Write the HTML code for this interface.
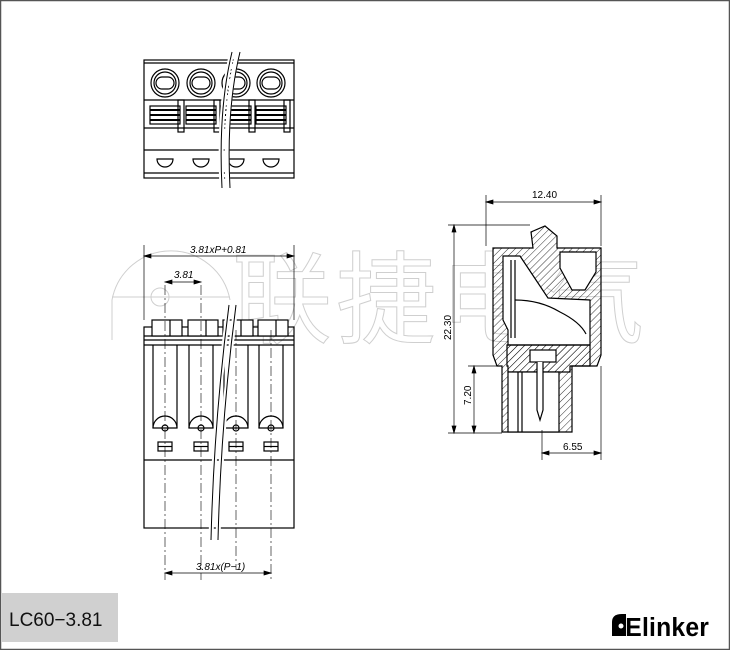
<!DOCTYPE html>
<html><head><style>
html,body{margin:0;padding:0;background:#fff}
svg{display:block}
</style></head><body>
<svg width="730" height="650" viewBox="0 0 730 650" xmlns="http://www.w3.org/2000/svg" font-family="Liberation Sans, sans-serif">
<defs>
<pattern id="h" width="5" height="5" patternUnits="userSpaceOnUse" patternTransform="rotate(45)"><line x1="0" y1="0" x2="0" y2="5" stroke="#000" stroke-width="0.8"/></pattern>
</defs>
<rect x="0.5" y="0.5" width="729" height="649" fill="#fff" stroke="#555" stroke-width="1.5"/>
<!-- watermark -->
<g fill="none" stroke="#cfcfcf" stroke-width="1">
<path d="M112 340 V300 A60 60 0 0 1 230 300"/>
<circle cx="160" cy="297" r="9"/>
<line x1="112" y1="297" x2="230" y2="297"/>
<text x="232" y="335" font-size="100" font-family="Noto Sans CJK SC, sans-serif" letter-spacing="4">联捷电气</text>
</g>
<g fill="none" stroke="#000" stroke-width="1.2">
<!-- TOP VIEW -->
<rect x="144" y="60" width="150" height="118"/>
<line x1="144" y1="63" x2="294" y2="63"/>
<line x1="144" y1="100" x2="294" y2="100"/>
<line x1="144" y1="128" x2="294" y2="128"/>
<line x1="144" y1="150" x2="294" y2="150"/>
<line x1="144" y1="173" x2="294" y2="173"/>
<g id="tc">
<circle cx="165" cy="83" r="14"/><circle cx="165" cy="83" r="11"/>
<rect x="156" y="77" width="18" height="12" rx="6"/>
<rect x="150" y="106" width="30" height="18" fill="#fff"/>
<line x1="150" y1="110" x2="180" y2="110" stroke-width="2"/><line x1="150" y1="115" x2="180" y2="115" stroke-width="2"/><line x1="150" y1="120" x2="180" y2="120" stroke-width="2"/>
<rect x="178" y="100" width="6" height="32"/>
<path d="M157 159 H173 A8 8 0 0 1 157 159 Z"/>
</g>
<use href="#tc" x="36"/><use href="#tc" x="71"/><use href="#tc" x="106"/>
<path d="M232 52 Q218 110 222 188 M238 52 Q224 110 228 188" stroke="#fff" stroke-width="5"/>
<path d="M232 52 Q218 110 222 188 M240 52 Q226 110 230 188" stroke-width="1"/>
<!-- FRONT VIEW -->
<rect x="144" y="327" width="150" height="201"/>
<line x1="144" y1="336" x2="294" y2="336"/><line x1="144" y1="340" x2="294" y2="340"/><line x1="144" y1="345" x2="294" y2="345"/>
<line x1="144" y1="460" x2="294" y2="460"/>
<g id="fc">
<rect x="152" y="320" width="30" height="16" fill="#fff"/><line x1="170" y1="320" x2="170" y2="336"/>
<path d="M153 345 V428 H177 V345"/>
<path d="M153 428 A12 12 0 0 1 177 428"/>
<circle cx="165" cy="428" r="3"/>
<rect x="158" y="442" width="14" height="9"/><line x1="158" y1="446.5" x2="172" y2="446.5"/>
</g>
<use href="#fc" x="36"/><use href="#fc" x="71"/><use href="#fc" x="106"/>
<path d="M229 305 Q214 420 211 540 M236 305 Q221 420 218 540" stroke="#fff" stroke-width="5"/>
<path d="M229 305 Q214 420 211 540 M236 305 Q221 420 218 540" stroke-width="1"/>
</g>
<g stroke="#000" stroke-width="0.6" stroke-dasharray="10 3 2 3" fill="none">
<line x1="165" y1="285" x2="165" y2="580"/><line x1="201" y1="285" x2="201" y2="580"/><line x1="236" y1="330" x2="236" y2="570"/><line x1="271" y1="330" x2="271" y2="580"/>
</g>
<g stroke="#000" stroke-width="0.7" fill="#000">
<line x1="144" y1="245" x2="144" y2="320"/><line x1="294" y1="245" x2="294" y2="320"/>
<line x1="144" y1="256" x2="294" y2="256"/>
<line x1="165" y1="282" x2="201" y2="282"/>
<line x1="165" y1="573" x2="271" y2="573"/>
<path d="M144 256 l7 -2 v4z M294 256 l-7 -2 v4z M165 282 l7 -2 v4z M201 282 l-7 -2 v4z M165 573 l7 -2 v4z M271 573 l-7 -2 v4z"/>
</g>
<g font-size="10" fill="#000" stroke="none" font-style="italic">
<text x="190" y="253">3.81xP+0.81</text>
<text x="174" y="278">3.81</text>
<text x="196" y="570">3.81x(P−1)</text>
</g>
<!-- SIDE VIEW -->
<g stroke="#000" stroke-width="1.2">
<path d="M493 248 H533 L531 232 L545 226 L557 236 V248 H601 V355 L597 366 H572 V432 H502 V366 H497 L493 355 Z" fill="url(#h)"/>
<path d="M503 256 H520 L548 298 L590 300 V345 H508 V330 L503 320 Z" fill="#fff"/>
<path d="M560 252 H596 V272 L585 290 H572 L560 268 Z" fill="#fff"/>
<path d="M515 300 Q540 300 560 312 Q580 322 586 334" fill="none"/>
<path d="M511 260 V338 M515 260 V338" fill="none"/>
<path d="M507 345 H590 V366 H570 V372 H508 V366 H507 Z" fill="url(#h)"/>
<rect x="508" y="372" width="51" height="60" fill="#fff"/>
<line x1="518" y1="372" x2="518" y2="432"/><line x1="522" y1="372" x2="522" y2="432"/>
<rect x="530" y="350" width="26" height="12" fill="#fff"/>
<path d="M537 362 V410 L540 420 L543 410 V362" fill="#fff"/>
</g>
<g stroke="#000" stroke-width="0.7" fill="#000">
<line x1="486" y1="195" x2="486" y2="246"/><line x1="601" y1="195" x2="601" y2="246"/>
<line x1="486" y1="202" x2="601" y2="202"/>
<line x1="448" y1="225" x2="530" y2="225"/><line x1="448" y1="433" x2="502" y2="433"/>
<line x1="454" y1="225" x2="454" y2="433"/>
<line x1="468" y1="366" x2="502" y2="366"/>
<line x1="474" y1="366" x2="474" y2="433"/>
<line x1="542" y1="430" x2="542" y2="460"/><line x1="601" y1="366" x2="601" y2="460"/>
<line x1="542" y1="453" x2="601" y2="453"/>
<path d="M486 202 l7 -2 v4z M601 202 l-7 -2 v4z M454 225 l-2 7 h4z M454 433 l-2 -7 h4z M474 366 l-2 7 h4z M474 433 l-2 -7 h4z M542 453 l7 -2 v4z M601 453 l-7 -2 v4z"/>
</g>
<g font-size="10" fill="#000">
<text x="532" y="198">12.40</text>
<text x="563" y="450">6.55</text>
<text transform="translate(451 340) rotate(-90)">22.30</text>
<text transform="translate(471 405) rotate(-90)">7.20</text>
</g>
<!-- footer -->
<rect x="2" y="593" width="116" height="49" fill="#d0d0d0"/>
<text x="9" y="626" font-size="19" fill="#111">LC60−3.81</text>
<g transform="translate(612 614)">
<path d="M0 22 V8 Q0 0 10 0 H14 V22 Z" fill="#000"/>
<circle cx="9" cy="12" r="2.5" fill="#fff"/>
<text x="14" y="22" font-size="26" font-weight="bold" fill="#000" transform="scale(0.95 1)" textLength="88">Elinker</text>
</g>
</svg>
</body></html>
